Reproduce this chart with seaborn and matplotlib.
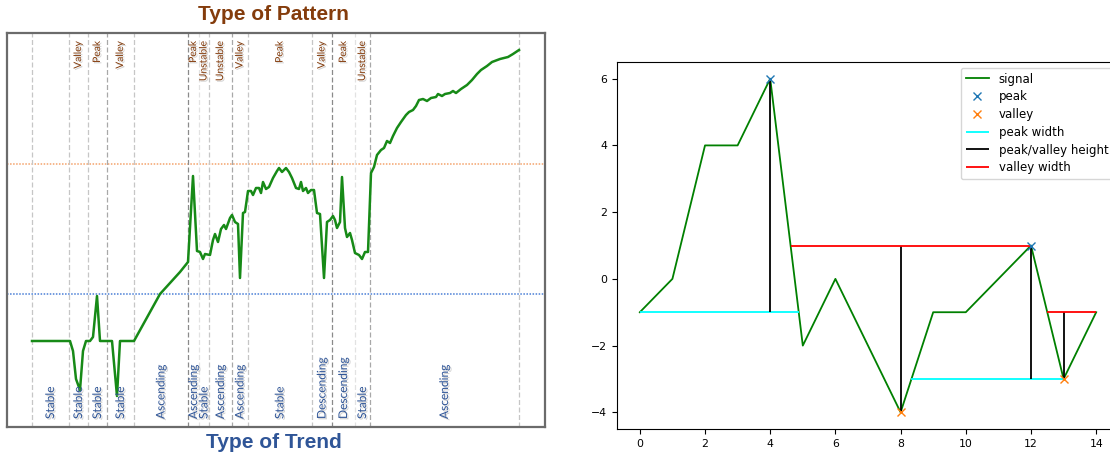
import matplotlib
matplotlib.use("Agg")
import matplotlib.pyplot as plt
import matplotlib.patheffects as pe
import seaborn as sns
import pandas as pd

# ---------------- left chart data (trend / pattern segmentation) ----------------
trend_t = [0, 38, 41, 44, 48, 51, 54, 58, 61, 65,
           68, 80, 85, 88, 102, 128, 148, 156, 161, 165,
           168, 171, 173, 178, 181, 183, 186, 189, 192, 194,
           198, 200, 203, 206, 208, 211, 213, 216, 219, 221,
           224, 227, 229, 231, 234, 237, 241, 245, 247, 250,
           254, 257, 260, 264, 267, 269, 271, 274, 276, 279,
           282, 285, 288, 292, 295, 298, 301, 303, 305, 308,
           310, 313, 315, 318, 320, 323, 327, 330, 333, 336,
           339, 342, 345, 349, 352, 355, 358, 361, 365, 369,
           374, 377, 381, 384, 387, 391, 395, 399, 404, 406,
           410, 413, 418, 421, 424, 429, 435, 440, 445, 449,
           455, 460, 468, 476, 481, 487]
trend_v = [86, 86, 76, 48, 37, 76, 86, 86, 90, 131,
           86, 86, 31, 86, 86, 133, 155, 165, 251, 176,
           175, 168, 173, 172, 187, 193, 185, 198, 202, 198,
           209, 212, 205, 203, 149, 214, 215, 236, 236, 232,
           239, 239, 234, 245, 238, 240, 249, 256, 259, 255,
           259, 255, 249, 239, 238, 245, 236, 239, 234, 237,
           237, 214, 213, 149, 205, 207, 211, 207, 199, 205,
           250, 199, 190, 194, 187, 174, 172, 168, 175, 175,
           254, 260, 272, 277, 279, 286, 284, 291, 299, 305,
           312, 315, 317, 321, 327, 328, 326, 329, 330, 333,
           331, 333, 334, 336, 334, 338, 342, 347, 353, 357,
           361, 365, 368, 370, 373, 377]
segment_bounds = [0, 37, 56, 75, 102, 156, 167, 177, 200, 216, 280, 300, 323, 338, 487]
pattern_labels = ["", "Valley", "Peak", "Valley", "", "Peak", "Unstable", "Unstable",
                  "Valley", "Peak", "Valley", "Peak", "Unstable", ""]
trend_labels = ["Stable", "Stable", "Stable", "Stable", "Ascending", "Ascending", "Stable",
                "Ascending", "Ascending", "Stable", "Descending", "Descending", "Stable",
                "Ascending"]
upper_level = 263
lower_level = 133

# ---------------- right chart data (peak / valley detection) ----------------
sig_x = list(range(15))
sig_y = [-1, 0, 4, 4, 6, -2, 0, -2, -4, -1, -1, 0, 1, -3, -1]
peak_x = [4, 12]
peak_y = [6, 1]
valley_x = [8, 13]
valley_y = [-4, -3]
peak_width_y = [-1, -3]
peak_left = [0, 8.333]
peak_right = [4.875, 13]
valley_width_y = [1, -1]
valley_left = [4.625, 12.5]
valley_right = [12, 14]
peak_base = [-1, -3]
valley_top = [1, -1]

W, H = 1110, 459
fig = plt.figure(figsize=(W / 100, H / 100), dpi=100)

# ================= left panel =================
axl = fig.add_axes([7 / W, 32 / H, 538 / W, 394 / H])
axl.set_xlim(-25, 513)
axl.set_ylim(0, 394)
axl.set_xticks([])
axl.set_yticks([])
for s in axl.spines.values():
    s.set_color("#6b6b6b")
    s.set_linewidth(1.6)

axl.axhline(upper_level, color="#F4A36C", ls=(0, (1, 1)), lw=1.1, zorder=1)
axl.axhline(lower_level, color="#4A7FD6", ls=(0, (1, 1)), lw=1.1, zorder=1)

line_cols = {3: "#a8a8a8", 5: "#8a8a8a", 6: "#e2e2e2", 8: "#a8a8a8",
             11: "#8a8a8a", 12: "#e2e2e2", 13: "#a8a8a8"}
for i, b in enumerate(segment_bounds):
    axl.axvline(b, color=line_cols.get(i, "#c6c6c6"), ls=(0, (4, 2)), lw=0.9, zorder=1)

df_left = pd.DataFrame({"t": trend_t, "v": trend_v})
sns.lineplot(data=df_left, x="t", y="v", ax=axl, color="#178a17", lw=1.8, zorder=3)
axl.set_xlabel("")
axl.set_ylabel("")

shadow = [pe.SimplePatchShadow(offset=(1, -1), shadow_rgbFace="#9a9a9a", alpha=0.45), pe.Normal()]
for i in range(len(segment_bounds) - 1):
    c = (segment_bounds[i] + segment_bounds[i + 1]) / 2
    if pattern_labels[i]:
        axl.text(c, 386, pattern_labels[i], rotation=90, ha="center", va="top",
                 fontsize=7.4, color="#843C0C", family="Lato", path_effects=shadow, zorder=4)
    if trend_labels[i]:
        axl.text(c, 8, trend_labels[i], rotation=90, ha="center", va="bottom",
                 fontsize=8.6, color="#2F5597", family="Lato", path_effects=shadow, zorder=4)

fig.text(273 / W, 1 - 15 / H, "Type of Pattern", ha="center", va="center",
         fontsize=15, fontweight="bold", color="#843C0C", family="Liberation Sans")
fig.text(274 / W, 1 - 443 / H, "Type of Trend", ha="center", va="center",
         fontsize=15, fontweight="bold", color="#2F5597", family="Liberation Sans")

# ================= right panel =================
axr = fig.add_axes([617 / W, 30 / H, 502 / W, 367 / H])
sns.lineplot(x=sig_x, y=sig_y, ax=axr, color="green", lw=1.3, label="signal")
axr.plot(peak_x, peak_y, "x", color="C0", ms=6, label="peak", zorder=5)
axr.plot(valley_x, valley_y, "x", color="C1", ms=6, label="valley", zorder=5)
axr.hlines(peak_width_y, peak_left, peak_right, color="cyan", lw=1.3, label="peak width")
axr.vlines(peak_x, peak_base, peak_y, color="black", lw=1.3, label="peak/valley height")
axr.vlines(valley_x, valley_y, valley_top, color="black", lw=1.3)
axr.hlines(valley_width_y, valley_left, valley_right, color="red", lw=1.3, label="valley width")
axr.set_xticks(range(0, 15, 2))
axr.set_yticks(range(-4, 7, 2))
axr.tick_params(labelsize=7.8)
axr.set_xlabel("")
axr.set_ylabel("")
axr.legend(loc="upper right", fontsize=8.5, labelspacing=0.4)

fig.savefig("out.png", dpi=100)
